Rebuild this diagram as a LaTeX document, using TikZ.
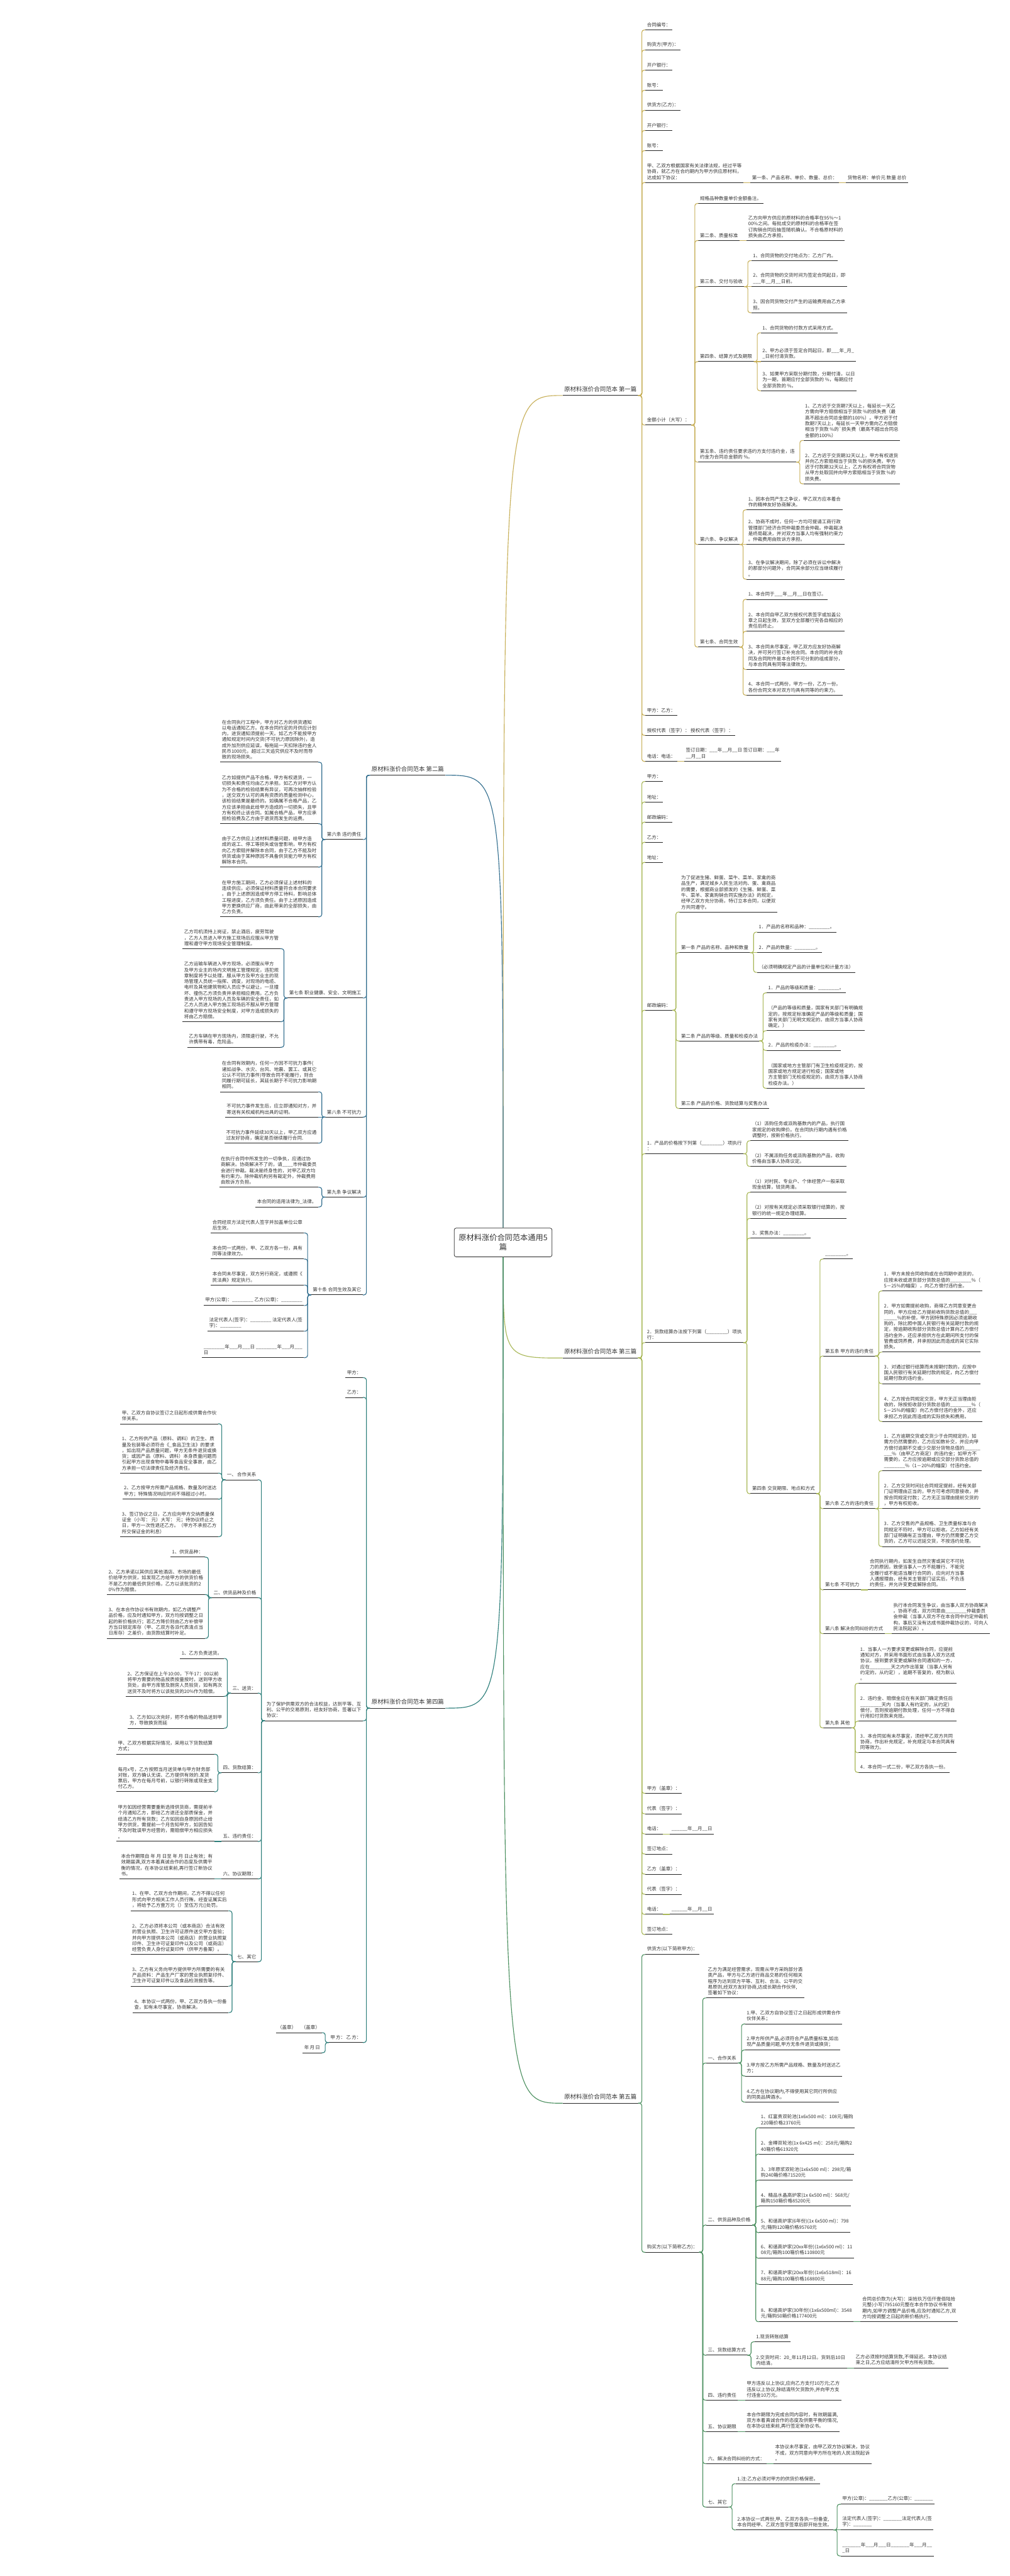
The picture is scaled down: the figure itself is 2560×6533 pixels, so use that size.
\documentclass[tikz,border=0pt]{standalone}
\usepackage{fontspec}
\setmainfont{Noto Sans CJK SC}
\usetikzlibrary{calc}

\definecolor{txtc}{HTML}{333333}
\definecolor{ulc}{HTML}{262626}
\definecolor{brA}{HTML}{C8B05A}
\definecolor{brB}{HTML}{336F8F}
\definecolor{brC}{HTML}{A9B858}
\definecolor{brD}{HTML}{2E7F7B}
\definecolor{brE}{HTML}{4C9060}

\tikzset{
  topic/.style={font=\fontsize{12}{14.8}\selectfont, text=txtc, align=left,
    inner xsep=4pt, inner ysep=7pt,
    append after command={(\tikzlastnode.south west) edge[uline] (\tikzlastnode.south east)}},
  uline/.style={draw=ulc, line width=1.6pt},
  rtopic/.style={topic, anchor=south west, xshift=18pt},
  ltopic/.style={topic, anchor=south east, xshift=-18pt},
  title/.style={topic, font=\fontsize{15}{18}\selectfont, inner ysep=9pt},
  root/.style={draw=ulc, line width=1.2pt, rounded corners=5pt, fill=white, text=txtc,
    font=\fontsize{19.5}{24}\selectfont, align=center, text width=236pt,
    minimum height=73pt, inner sep=6pt},
  conn/.style={line width=1.8pt, rounded corners=6pt},
  elbowR/.style={to path={-- ++(9pt,0) |- (\tikztotarget)}},
  elbowL/.style={to path={-- ++(-9pt,0) |- (\tikztotarget)}},
}

\begin{document}
\begin{tikzpicture}[x=1pt, y=-1pt]
\fill[white] (0,0) rectangle (2560,6533);
\useasboundingbox (0,0) rectangle (2560,6533);

\node[root] (ctr) at (1276,3151) {原材料涨价合同范本通用5\\篇};

% right side titles
\node[title, anchor=south west] (L1) at (1427,1003) {原材料涨价合同范本 第一篇};
\node[title, anchor=south west] (L3) at (1427,3444) {原材料涨价合同范本 第三篇};
\node[title, anchor=south west] (L5) at (1427,5334) {原材料涨价合同范本 第五篇};
% left side titles
\node[title, anchor=south east] (L2) at (1130,1966) {原材料涨价合同范本 第二篇};
\node[title, anchor=south east] (L4) at (1130,4332) {原材料涨价合同范本 第四篇};

\draw[conn, brA] (ctr.north) .. controls (ctr.north |- L1.south west) and (ctr.north |- L1.south west) .. (L1.south west);
\draw[conn, brB] (ctr.north) .. controls (ctr.north |- L2.south east) and (ctr.north |- L2.south east) .. (L2.south east);
\draw[conn, brC] (ctr.south) .. controls (ctr.south |- L3.south west) and (ctr.south |- L3.south west) .. (L3.south west);
\draw[conn, brD] (ctr.south) .. controls (ctr.south |- L4.south east) and (ctr.south |- L4.south east) .. (L4.south east);
\draw[conn, brE] (ctr.south) .. controls (ctr.south |- L5.south west) and (ctr.south |- L5.south west) .. (L5.south west);

% ---------- 第一篇
\node[rtopic] (a1) at (L1.south east |- 0,76) {合同编号：};
\node[rtopic] (a2) at (L1.south east |- 0,127) {购货方(甲方)：};
\node[rtopic] (a3) at (L1.south east |- 0,178) {开户银行：};
\node[rtopic] (a4) at (L1.south east |- 0,229) {账号：};
\node[rtopic] (a5) at (L1.south east |- 0,280) {供货方(乙方)：};
\node[rtopic] (a6) at (L1.south east |- 0,331) {开户银行：};
\node[rtopic] (a7) at (L1.south east |- 0,382) {账号：};
\node[rtopic] (a8) at (L1.south east |- 0,463) {甲、乙双方根据国家有关法律法规，经过平等\\协商，就乙方在合约期内为甲方供应原材料，\\达成如下协议：};
\node[rtopic] (a8a) at (a8.south east |- 0,463) {第一条、产品名称、单价、数量、总价：};
\node[rtopic] (a8b) at (a8a.south east |- 0,463) {货物名称：单价元 数量 总价};
\node[rtopic] (a9) at (L1.south east |- 0,1078) {金额小计（大写）：};
\node[rtopic] (a10) at (L1.south east |- 0,1814) {甲方：乙方：};
\node[rtopic] (a11) at (L1.south east |- 0,1865) {授权代表（签字）： 授权代表（签字）：};
\node[rtopic] (a12) at (L1.south east |- 0,1931) {电话：电话：};
\node[rtopic] (a12a) at (a12.south east |- 0,1931) {签订日期：\_\_\_年\_\_月\_\_日 签订日期：\_\_\_年\\\_\_月\_\_日};

\node[rtopic] (b1) at (a9.south east |- 0,516) {规格品种数量单价金额备注。};
\node[rtopic] (b2) at (a9.south east |- 0,610) {第二条、质量标准};
\node[rtopic] (b2a) at (b2.south east |- 0,610) {乙方向甲方供应的原材料的合格率在95\%～1\\00\%之间。每批成交的原材料的合格率在签\\订购销合同后抽签随机确认。不合格原材料的\\损失由乙方承担。};
\node[rtopic] (b3) at (a9.south east |- 0,727) {第三条、交付与验收};
\node[rtopic] (b3a) at (b3.south east |- 0,661) {1、合同货物的交付地点为：乙方厂内。};
\node[rtopic] (b3b) at (b3.south east |- 0,727) {2、合同货物的交货时间为签定合同起日，即\\\_\_\_年\_\_月\_\_日前。};
\node[rtopic] (b3c) at (b3.south east |- 0,793) {3、因合同货物交付产生的运输费用由乙方承\\担。};
\node[rtopic] (b4) at (a9.south east |- 0,917) {第四条、结算方式及期限};
\node[rtopic] (b4a) at (b4.south east |- 0,844) {1、合同货物的付款方式采用方式。};
\node[rtopic] (b4b) at (b4.south east |- 0,917) {2、甲方必须于签定合同起日，即\_\_\_年\_月\_\\\_日前付清货款。};
\node[rtopic] (b4c) at (b4.south east |- 0,991) {3、如果甲方采取分期付款，分期付清，以日\\为一期，首期应付全部货款的 \%，每期应付\\全部货款的 \%。};
\node[rtopic] (b5) at (a9.south east |- 0,1172) {第五条、违约责任要求违约方支付违约金，违\\约金为合同总金额的 \%。};
\node[rtopic] (b5a) at (b5.south east |- 0,1117) {1、乙方迟于交货期7天以上，每延长一天乙\\方需向甲方赔偿相当于货款 \%的损失费（最\\高不超出合同总金额的100\%）。甲方迟于付\\款期7天以上，每延长一天甲方需向乙方赔偿\\相当于货款 \%的\textasciigrave 损失费（最高不超出合同总\\金额的100\%）};
\node[rtopic] (b5b) at (b5.south east |- 0,1227) {2、乙方迟于交货期32天以上，甲方有权退货\\并向乙方索赔相当于货款 \%的损失费。甲方\\迟于付款期32天以上，乙方有权将合同货物\\从甲方处取回并向甲方索赔相当于货款 \%的\\损失费。};
\node[rtopic] (b6) at (a9.south east |- 0,1381) {第六条、争议解决};
\node[rtopic] (b6a) at (b6.south east |- 0,1293) {1、因本合同产生之争议，甲乙双方应本着合\\作的精神友好协商解决。};
\node[rtopic] (b6b) at (b6.south east |- 0,1381) {2、协商不成时，任何一方均可提请工商行政\\管理部门经济合同仲裁委员会仲裁。仲裁裁决\\是终局裁决，并对双方当事人均有强制约束力\\。仲裁费用由败诉方承担。};
\node[rtopic] (b6c) at (b6.south east |- 0,1469) {3、在争议解决期间，除了必须在诉讼中解决\\的那部分问题外，合同其余部分应当继续履行\\。};
\node[rtopic] (b7) at (a9.south east |- 0,1641) {第七条、合同生效};
\node[rtopic] (b7a) at (b7.south east |- 0,1520) {1、本合同于\_\_\_年\_\_月\_\_日在签订。};
\node[rtopic] (b7b) at (b7.south east |- 0,1601) {2、本合同自甲乙双方授权代表签字或加盖公\\章之日起生效，至双方全部履行完各自相应的\\责任后终止。};
\node[rtopic] (b7c) at (b7.south east |- 0,1698) {3、本合同未尽事宜，甲乙双方应友好协商解\\决，并可另行签订补充合同。本合同的补充合\\同及合同附件是本合同不可分割的组成部分，\\与本合同具有同等法律效力。};
\node[rtopic] (b7d) at (b7.south east |- 0,1763) {4、本合同一式两份，甲方一份，乙方一份。\\各份合同文本对双方均具有同等的约束力。};

\draw[conn, brA] (L1.south east) edge[elbowR] (a1.south west) edge[elbowR] (a2.south west)
  edge[elbowR] (a3.south west) edge[elbowR] (a4.south west) edge[elbowR] (a5.south west)
  edge[elbowR] (a6.south west) edge[elbowR] (a7.south west) edge[elbowR] (a8.south west)
  edge[elbowR] (a9.south west) edge[elbowR] (a10.south west) edge[elbowR] (a11.south west)
  edge[elbowR] (a12.south west);
\draw[conn, brA] (a8.south east) -- (a8a.south west) (a8a.south east) -- (a8b.south west)
  (a12.south east) -- (a12a.south west);
\draw[conn, brA] (a9.south east) edge[elbowR] (b1.south west) edge[elbowR] (b2.south west)
  edge[elbowR] (b3.south west) edge[elbowR] (b4.south west) edge[elbowR] (b5.south west)
  edge[elbowR] (b6.south west) edge[elbowR] (b7.south west);
\draw[conn, brA] (b2.south east) -- (b2a.south west) (b3.south east) -- (b3b.south west)
  (b4.south east) -- (b4b.south west) (b6.south east) -- (b6b.south west);
\draw[conn, brA] (b3.south east) edge[elbowR] (b3a.south west) edge[elbowR] (b3c.south west);
\draw[conn, brA] (b4.south east) edge[elbowR] (b4a.south west) edge[elbowR] (b4c.south west);
\draw[conn, brA] (b5.south east) edge[elbowR] (b5a.south west) edge[elbowR] (b5b.south west);
\draw[conn, brA] (b6.south east) edge[elbowR] (b6a.south west) edge[elbowR] (b6c.south west);
\draw[conn, brA] (b7.south east) edge[elbowR] (b7a.south west) edge[elbowR] (b7b.south west)
  edge[elbowR] (b7c.south west) edge[elbowR] (b7d.south west);

% ---------- 第三篇
\node[rtopic] (c1) at (L3.south east |- 0,1982) {甲方：};
\node[rtopic] (c2) at (L3.south east |- 0,2034) {地址：};
\node[rtopic] (c3) at (L3.south east |- 0,2085) {邮政编码：};
\node[rtopic] (c4) at (L3.south east |- 0,2136) {乙方：};
\node[rtopic] (c5) at (L3.south east |- 0,2187) {地址：};
\node[rtopic] (c6) at (L3.south east |- 0,2562) {邮政编码：};
\node[rtopic] (c7) at (L3.south east |- 0,2926) {1．产品的价格按下列第（\_\_\_\_\_\_\_\_）项执行\\：};
\node[rtopic] (c8) at (L3.south east |- 0,3405) {2．货款结算办法按下列第（\_\_\_\_\_\_\_\_）项执\\行：};
\node[rtopic] (c9) at (L3.south east |- 0,4548) {甲方（盖章）：};
\node[rtopic] (c10) at (L3.south east |- 0,4600) {代表（签字）：};
\node[rtopic] (c11) at (L3.south east |- 0,4651) {电话：};
\node[rtopic] (c11a) at (c11.south east |- 0,4651) {\_\_\_\_\_\_年\_\_月\_\_日};
\node[rtopic] (c12) at (L3.south east |- 0,4702) {签订地点：};
\node[rtopic] (c13) at (L3.south east |- 0,4753) {乙方（盖章）：};
\node[rtopic] (c14) at (L3.south east |- 0,4804) {代表（签字）：};
\node[rtopic] (c15) at (L3.south east |- 0,4855) {电话：};
\node[rtopic] (c15a) at (c15.south east |- 0,4855) {\_\_\_\_\_\_年\_\_月\_\_日};
\node[rtopic] (c16) at (L3.south east |- 0,4906) {签订地点：};

\node[rtopic] (d1) at (c6.south east |- 0,2313) {为了促进生猪、鲜蛋、菜牛、菜羊、家禽的商\\品生产，满足城乡人民生活对肉、蛋、禽商品\\的需要，根据商业部颁发的《生猪、鲜蛋、菜\\牛、菜羊、家禽购销合同实施办法》的规定，\\经甲乙双方充分协商，特订立本合同，以便双\\方共同遵守。};
\node[rtopic] (d2) at (c6.south east |- 0,2416) {第一条 产品的名称、品种和数量};
\node[rtopic] (d2a) at (d2.south east |- 0,2364) {1．产品的名称和品种：\_\_\_\_\_\_\_\_。};
\node[rtopic] (d2b) at (d2.south east |- 0,2416) {2．产品的数量：\_\_\_\_\_\_\_\_。};
\node[rtopic] (d2c) at (d2.south east |- 0,2466) {（必须明确规定产品的计量单位和计量方法）};
\node[rtopic] (d3) at (c6.south east |- 0,2640) {第二条 产品的等级、质量和检疫办法};
\node[rtopic] (d3a) at (d3.south east |- 0,2518) {1．产品的等级和质量：\_\_\_\_\_\_\_\_。};
\node[rtopic] (d3b) at (d3.south east |- 0,2614) {（产品的等级和质量，国家有关部门有明确规\\定的，按规定标准确定产品的等级和质量；国\\家有关部门无明文规定的，由双方当事人协商\\确定。）};
\node[rtopic] (d3c) at (d3.south east |- 0,2664) {2．产品的检疫办法：\_\_\_\_\_\_\_\_。};
\node[rtopic] (d3d) at (d3.south east |- 0,2760) {（国家或地方主管部门有卫生检疫规定的，按\\国家或地方规定进行检疫；国家或地\\方主管部门无检疫规定的，由双方当事人协商\\检疫办法。）};
\node[rtopic] (d4) at (c6.south east |- 0,2811) {第三条 产品的价格、货款结算与奖售办法};

\node[rtopic] (e1) at (c7.south east |- 0,2893) {（1）派购任务或派购基数内的产品，执行国\\家规定的收购牌价。在合同执行期内遇有价格\\调整时，按新价格执行。};
\node[rtopic] (e2) at (c7.south east |- 0,2958) {（2）不属派购任务或派购基数的产品，收购\\价格由当事人协商议定。};

\node[rtopic] (f1) at (c8.south east |- 0,3024) {（1）对村民、专业户、个体经营户一般采取\\现金结算，钱货两清。};
\node[rtopic] (f2) at (c8.south east |- 0,3090) {（2）对按有关规定必须采取银行结算的，按\\银行的统一规定办理结算。};
\node[rtopic] (f3) at (c8.south east |- 0,3140) {3．奖售办法：\_\_\_\_\_\_\_\_。};
\node[rtopic] (f4) at (c8.south east |- 0,3788) {第四条 交货期限、地点和方式};

\node[rtopic] (g1) at (f4.south east |- 0,3193) {\_\_\_\_\_\_\_\_。};
\node[rtopic] (g2) at (f4.south east |- 0,3439) {第五条 甲方的违约责任};
\node[rtopic] (g2a) at (g2.south east |- 0,3274) {1．甲方未按合同收购或在合同期中退货的，\\应按未收或退货部分货款总值的\_\_\_\_\_\_\_\_\%（\\5－25\%的幅度），向乙方偿付违约金。};
\node[rtopic] (g2b) at (g2.south east |- 0,3429) {2．甲方如需提前收购，商得乙方同意变更合\\同的，甲方应给乙方提前收购货款总值的\_\_\_\\\_\_\_\_\_\%的补偿，甲方因特殊原因必须逾期收\\购的，除比照中国人民银行有关延期付款的规\\定，按逾期收购部分货款总值计算向乙方偿付\\违约金外，还应承担供方在此期间所支付的保\\管费或饲养费，并承担因此而造成的其它实际\\损失。};
\node[rtopic] (g2c) at (g2.south east |- 0,3509) {3．对通过银行结算而未按期付款的，应按中\\国人民银行有关延期付款的规定，向乙方偿付\\延期付款的违约金。};
\node[rtopic] (g2d) at (g2.south east |- 0,3605) {4．乙方按合同规定交货，甲方无正当理由拒\\收的，除按拒收部分货款总值的\_\_\_\_\_\_\_\_\%（\\5－25\%的幅度）向乙方偿付违约金外，还应\\承担乙方因此而造成的实际损失和费用。};
\node[rtopic] (g3) at (f4.south east |- 0,3826) {第六条 乙方的违约责任};
\node[rtopic] (g3a) at (g3.south east |- 0,3730) {1．乙方逾期交货或交货少于合同规定的，如\\需方仍然需要的，乙方应如数补交，并应向甲\\方偿付逾期不交或少交部分货物总值的\_\_\_\_\_\_\\\_\_\_\%（由甲乙方商定）的违约金；如甲方不\\需要的，乙方应按逾期或应交部分货款总值的\\\_\_\_\_\_\_\_\_\%（1－20\%的幅度）付违约金。};
\node[rtopic] (g3b) at (g3.south east |- 0,3826) {2．乙方交货时间比合同规定提前，经有关部\\门证明理由正当的，甲方可考虑同意接收，并\\按合同规定付款；乙方无正当理由提前交货的\\，甲方有权拒收。};
\node[rtopic] (g3c) at (g3.south east |- 0,3922) {3．乙方交售的产品规格、卫生质量标准与合\\同规定不符时，甲方可以拒收。乙方如经有关\\部门证明确有正当理由，甲方仍然需要乙方交\\货的，乙方可以迟延交货，不按违约处理。};
\node[rtopic] (g4) at (f4.south east |- 0,4032) {第七条 不可抗力};
\node[rtopic] (g4a) at (g4.south east |- 0,4032) {合同执行期内，如发生自然灾害或其它不可抗\\力的原因，致使当事人一方不能履行、不能完\\全履行或不能适当履行合同的，应向对方当事\\人通报理由，经有关主管部门证实后，不负违\\约责任，并允许变更或解除合同。};
\node[rtopic] (g5) at (f4.south east |- 0,4143) {第八条 解决合同纠纷的方式};
\node[rtopic] (g5a) at (g5.south east |- 0,4143) {执行本合同发生争议，由当事人双方协商解决\\。协商不成，双方同意由\_\_\_\_\_\_\_\_仲裁委员\\会仲裁（当事人双方不在本合同中约定仲裁机\\构，事后又没有达成书面仲裁协议的，可向人\\民法院起诉）。};
\node[rtopic] (g6) at (f4.south east |- 0,4382) {第九条 其他};
\node[rtopic] (g6a) at (g6.south east |- 0,4269) {1．当事人一方要求变更或解除合同，应提前\\通知对方，并采用书面形式由当事人双方达成\\协议。接到要求变更或解除合同通知的一方，\\应在\_\_\_\_\_\_\_\_天之内作出答复（当事人另有\\约定的，从约定），逾期不答复的，视为默认\\。};
\node[rtopic] (g6b) at (g6.south east |- 0,4365) {2．违约金、赔偿金应在有关部门确定责任后\\\_\_\_\_\_\_\_\_天内（当事人有约定的，从约定）\\偿付，否则按逾期付款处理，任何一方不得自\\行用扣付货款来充抵。};
\node[rtopic] (g6c) at (g6.south east |- 0,4445) {3．本合同如有未尽事宜，须经甲乙双方共同\\协商，作出补充规定，补充规定与本合同具有\\同等效力。};
\node[rtopic] (g6d) at (g6.south east |- 0,4495) {4．本合同一式二份，甲乙双方各执一份。};

\draw[conn, brC] (L3.south east) edge[elbowR] (c1.south west) edge[elbowR] (c2.south west)
  edge[elbowR] (c3.south west) edge[elbowR] (c4.south west) edge[elbowR] (c5.south west)
  edge[elbowR] (c6.south west) edge[elbowR] (c7.south west) edge[elbowR] (c8.south west)
  edge[elbowR] (c9.south west) edge[elbowR] (c10.south west) edge[elbowR] (c11.south west)
  edge[elbowR] (c12.south west) edge[elbowR] (c13.south west) edge[elbowR] (c14.south west)
  edge[elbowR] (c15.south west) edge[elbowR] (c16.south west);
\draw[conn, brC] (c11.south east) -- (c11a.south west) (c15.south east) -- (c15a.south west)
  (d2.south east) -- (d2b.south west) (g3.south east) -- (g3b.south west)
  (g4.south east) -- (g4a.south west) (g5.south east) -- (g5a.south west);
\draw[conn, brC] (c6.south east) edge[elbowR] (d1.south west) edge[elbowR] (d2.south west)
  edge[elbowR] (d3.south west) edge[elbowR] (d4.south west);
\draw[conn, brC] (d2.south east) edge[elbowR] (d2a.south west) edge[elbowR] (d2c.south west);
\draw[conn, brC] (d3.south east) edge[elbowR] (d3a.south west) edge[elbowR] (d3b.south west)
  edge[elbowR] (d3c.south west) edge[elbowR] (d3d.south west);
\draw[conn, brC] (c7.south east) edge[elbowR] (e1.south west) edge[elbowR] (e2.south west);
\draw[conn, brC] (c8.south east) edge[elbowR] (f1.south west) edge[elbowR] (f2.south west)
  edge[elbowR] (f3.south west) edge[elbowR] (f4.south west);
\draw[conn, brC] (f4.south east) edge[elbowR] (g1.south west) edge[elbowR] (g2.south west)
  edge[elbowR] (g3.south west) edge[elbowR] (g4.south west) edge[elbowR] (g5.south west)
  edge[elbowR] (g6.south west);
\draw[conn, brC] (g2.south east) edge[elbowR] (g2a.south west) edge[elbowR] (g2b.south west)
  edge[elbowR] (g2c.south west) edge[elbowR] (g2d.south west);
\draw[conn, brC] (g3.south east) edge[elbowR] (g3a.south west) edge[elbowR] (g3c.south west);
\draw[conn, brC] (g6.south east) edge[elbowR] (g6a.south west) edge[elbowR] (g6b.south west)
  edge[elbowR] (g6c.south west) edge[elbowR] (g6d.south west);

% ---------- 第五篇
\node[rtopic] (h1) at (L5.south east |- 0,4957) {供货方(以下简称甲方)：};
\node[rtopic] (h2) at (L5.south east |- 0,5712) {购买方(以下简称乙方)：};
\node[rtopic] (i1) at (h2.south east |- 0,5067) {乙方为满足经营需求，现需从甲方采购部分酒\\类产品，甲方与乙方进行商品交易的任何相关\\程序为达到双方平等、互利、合法、公平的交\\易原则,经双方友好协商,达成长期合作伙伴,\\签署如下协议：};
\node[rtopic] (i2) at (h2.south east |- 0,5232) {一、合作关系};
\node[rtopic] (i2a) at (i2.south east |- 0,5133) {1.甲、乙双方自协议签订之日起形成供需合作\\伙伴关系；};
\node[rtopic] (i2b) at (i2.south east |- 0,5199) {2.甲方所供产品,必须符合产品质量标准,如出\\现产品质量问题,甲方无条件退货或换货；};
\node[rtopic] (i2c) at (i2.south east |- 0,5265) {3.甲方按乙方所需产品规格、数量及时送达乙\\方；};
\node[rtopic] (i2d) at (i2.south east |- 0,5331) {4.乙方在协议期内,不得使用其它同行所供应\\的同类品牌酒水。};
\node[rtopic] (i3) at (h2.south east |- 0,5643) {二、供货品种及价格};
\node[rtopic] (i3a) at (i3.south east |- 0,5396) {1、红富贵双轮池(1x6x500 ml)：108元/箱购\\220箱价格23760元};
\node[rtopic] (i3b) at (i3.south east |- 0,5463) {2、金樽双轮池(1x 6x425 ml)：258元/箱购2\\40箱价格61920元};
\node[rtopic] (i3c) at (i3.south east |- 0,5529) {3、3年原浆双轮池(1x6x500 ml)：298元/箱\\购240箱价格71520元};
\node[rtopic] (i3d) at (i3.south east |- 0,5595) {4、精品水晶高炉家(1x 6x500 ml)：568元/\\箱购150箱价格85200元};
\node[rtopic] (i3e) at (i3.south east |- 0,5662) {5、和谐高炉家(6年份)(1x 6x500 ml)：798\\元/箱购120箱价格95760元};
\node[rtopic] (i3f) at (i3.south east |- 0,5727) {6、和谐高炉家(20xx年份)(1x6x500 ml)：11\\08元/箱购100箱价格110800元};
\node[rtopic] (i3g) at (i3.south east |- 0,5793) {7、和谐高炉家(20xx年份)(1x6x518ml)：16\\88元/箱购100箱价格168800元};
\node[rtopic] (i3h) at (i3.south east |- 0,5888) {8、和谐高炉家(30年份)(1x6x500ml)：3548\\元/箱购50箱价格177400元};
\node[rtopic] (i3h1) at (i3h.south east |- 0,5888) {合同总价款为(大写)：柒拾玖万伍仟壹佰陆拾\\元整(小写)795160元整在本合作协议书有效\\期内,如甲方调整产品价格,应及时通知乙方,双\\方均按调整之日起的新价格执行。};
\node[rtopic] (i4) at (h2.south east |- 0,5973) {三、货款结算方式};
\node[rtopic] (i4a) at (i4.south east |- 0,5939) {1.现货转账结算};
\node[rtopic] (i4b) at (i4.south east |- 0,6006) {2.交货时间：20\_年11月12日。货到后10日\\内结清。};
\node[rtopic] (i4b1) at (i4b.south east |- 0,6006) {乙方必须按时结算货款,不得延迟。本协议结\\束之日,乙方应结清所欠甲方所有货款。};
\node[rtopic] (i5) at (h2.south east |- 0,6087) {四、违约责任};
\node[rtopic] (i5a) at (i5.south east |- 0,6087) {甲方违反以上协议,应向乙方支付10万元;乙方\\违反以上协议,除结清所欠货款外,并向甲方支\\付违金10万元。};
\node[rtopic] (i6) at (h2.south east |- 0,6167) {五、协议期限};
\node[rtopic] (i6a) at (i6.south east |- 0,6167) {本合作期限为完成合同内容时，有效期届满,\\双方本着真诚合作的态度及供需平衡的情况,\\在本协议结束前,再行签定新协议书。};
\node[rtopic] (i7) at (h2.south east |- 0,6248) {六、解决合同纠纷的方式：};
\node[rtopic] (i7a) at (i7.south east |- 0,6248) {本协议未尽事宜，由甲乙双方协议解决，协议\\不成，双方同意向甲方所在地的人民法院起诉\\。};
\node[rtopic] (i8) at (h2.south east |- 0,6358) {七、其它};
\node[rtopic] (i8a) at (i8.south east |- 0,6299) {1.注:乙方必须对甲方的供货价格保密。};
\node[rtopic] (i8b) at (i8.south east |- 0,6416) {2.本协议一式两份,甲、乙双方各执一份备查,\\本合同经甲、乙双方签字签章后即开始生效。};
\node[rtopic] (j1) at (i8b.south east |- 0,6351) {甲方(公章)：\_\_\_\_\_\_\_乙方(公章)：\_\_\_\_\_\_\_};
\node[rtopic] (j2) at (i8b.south east |- 0,6416) {法定代表人(签字)：\_\_\_\_\_\_\_法定代表人(签\\字)：\_\_\_\_\_\_\_};
\node[rtopic] (j3) at (i8b.south east |- 0,6482) {\_\_\_\_\_\_\_年\_\_\_月\_\_\_日\_\_\_\_\_\_\_年\_\_\_月\_\_\\\_日};

\draw[conn, brE] (L5.south east) edge[elbowR] (h1.south west) edge[elbowR] (h2.south west);
\draw[conn, brE] (h2.south east) edge[elbowR] (i1.south west) edge[elbowR] (i2.south west)
  edge[elbowR] (i3.south west) edge[elbowR] (i4.south west) edge[elbowR] (i5.south west)
  edge[elbowR] (i6.south west) edge[elbowR] (i7.south west) edge[elbowR] (i8.south west);
\draw[conn, brE] (i2.south east) edge[elbowR] (i2a.south west) edge[elbowR] (i2b.south west)
  edge[elbowR] (i2c.south west) edge[elbowR] (i2d.south west);
\draw[conn, brE] (i3.south east) edge[elbowR] (i3a.south west) edge[elbowR] (i3b.south west)
  edge[elbowR] (i3c.south west) edge[elbowR] (i3d.south west) edge[elbowR] (i3e.south west)
  edge[elbowR] (i3f.south west) edge[elbowR] (i3g.south west) edge[elbowR] (i3h.south west);
\draw[conn, brE] (i4.south east) edge[elbowR] (i4a.south west) edge[elbowR] (i4b.south west);
\draw[conn, brE] (i8.south east) edge[elbowR] (i8a.south west) edge[elbowR] (i8b.south west);
\draw[conn, brE] (i8b.south east) edge[elbowR] (j1.south west) edge[elbowR] (j3.south west);
\draw[conn, brE] (i3h.south east) -- (i3h1.south west) (i4b.south east) -- (i4b1.south west)
  (i5.south east) -- (i5a.south west) (i6.south east) -- (i6a.south west)
  (i7.south east) -- (i7a.south west) (i8b.south east) -- (j2.south west);

% ---------- 第二篇
\node[ltopic] (p6) at (L2.south west |- 0,2129) {第六条 违约责任};
\node[ltopic] (p6a) at (p6.south west |- 0,1933) {在合同执行工程中，甲方对乙方的供货通知\\以电话通知乙方。在本合同约定的月供应计划\\内，进货通知须提前一天。如乙方不能按甲方\\通知规定时间内交货(不可抗力原因除外)，造\\成外加剂供应延误，每拖延一天扣除违约金人\\民币1000元，超过三天追究供应不及时而导\\致的现场损失。};
\node[ltopic] (p6b) at (p6.south west |- 0,2089) {乙方如提供产品不合格，甲方有权退货，一\\切损失和责任均由乙方承担。如乙方对甲方认\\为不合格的检验结果有异议，可再次抽样检验\\，送交双方认可的具有资质的质量检测中心，\\该检验结果是最终的。如确属不合格产品，乙\\方应该承担由此给甲方造成的一切损失，且甲\\方有权终止该合同。如属合格产品，甲方应承\\担检验费及乙方由于退货而发生的运费。};
\node[ltopic] (p6c) at (p6.south west |- 0,2199) {由于乙方供应上述材料质量问题，给甲方造\\成的返工、停工等损失或信誉影响，甲方有权\\向乙方索赔并解除本合同，由于乙方不能及时\\供货或由于某种原因不具备供货能力甲方有权\\解除本合同。};
\node[ltopic] (p6d) at (p6.south west |- 0,2325) {在甲方施工期间，乙方必须保证上述材料的\\连续供应。必须保证材料质量符合本合同要求\\。由于上述原因造成甲方停工待料，影响总体\\工程进度，乙方须负责任。由于上述原因造成\\甲方更换供应厂商，由此带来的全部损失，由\\乙方负责。};
\node[ltopic] (p7) at (L2.south west |- 0,2531) {第七条 职业健康、安全、文明施工};
\node[ltopic] (p7a) at (p7.south west |- 0,2406) {乙方司机须持上岗证，禁止酒后，疲劳驾驶\\，乙方人员进入甲方施工现场后应服从甲方管\\理和遵守甲方现场安全管理制度。};
\node[ltopic] (p7b) at (p7.south west |- 0,2591) {乙方运输车辆进入甲方现场，必须服从甲方\\及甲方业主的场内文明施工管理规定，违犯规\\章制度将予以处理，服从甲方及甲方业主的现\\场管理人员统一指挥、调度，对现场的电缆、\\电杆及其他建筑物和人员应予以避让，一旦撞\\坏、撞伤乙方须负责并承担相应费用。乙方负\\责进入甲方现场的人员及车辆的安全责任，如\\乙方人员进入甲方施工现场后不服从甲方管理\\和遵守甲方现场安全制度，对甲方造成损失的\\将由乙方赔偿。};
\node[ltopic] (p7c) at (p7.south west |- 0,2656) {乙方车辆在甲方现场内，须限速行驶，不允\\许携带有毒，危险品。};
\node[ltopic] (p8) at (L2.south west |- 0,2833) {第八条 不可抗力};
\node[ltopic] (p8a) at (p8.south west |- 0,2769) {在合同有效期内，任何一方因不可抗力事件(\\诸如战争、水灾、台风、地震、罢工、或其它\\公认不可抗力事件)导致合同不能履行，则合\\同履行期可延长，其延长期于不可抗力影响期\\相同。};
\node[ltopic] (p8b) at (p8.south west |- 0,2833) {不可抗力事件发生后，应立即通知对方，并\\寄送有关权威机构出具的证明。};
\node[ltopic] (p8c) at (p8.south west |- 0,2899) {不可抗力事件延续30天以上，甲乙双方应通\\过友好协商，确定是否继续履行合同.};
\node[ltopic] (p9) at (L2.south west |- 0,3036) {第九条 争议解决};
\node[ltopic] (p9a) at (p9.south west |- 0,3011) {在执行合同中所发生的一切争执，应通过协\\商解决。协商解决不了的，请\_\_\_\_市仲裁委员\\会进行仲裁。裁决是终身性的，对甲乙双方均\\有约束力。除仲裁机构另有裁定外，仲裁费用\\由败诉方负担。};
\node[ltopic] (p9b) at (p9.south west |- 0,3061) {本合同的适用法律为\_法律。};
\node[ltopic] (p10) at (L2.south west |- 0,3284) {第十条 合同生效及其它};
\node[ltopic] (p10a) at (p10.south west |- 0,3127) {合同经双方法定代表人签字并加盖单位公章\\后生效。};
\node[ltopic] (p10b) at (p10.south west |- 0,3193) {本合同一式两份，甲、乙双方各一份，具有\\同等法律效力。};
\node[ltopic] (p10c) at (p10.south west |- 0,3259) {本合同未尽事宜，双方另行商定，或遵照《\\民法典》规定执行。};
\node[ltopic] (p10d) at (p10.south west |- 0,3311) {甲方(公章)：\_\_\_\_\_\_\_\_ 乙方(公章)：\_\_\_\_\_\_\_\_};
\node[ltopic] (p10e) at (p10.south west |- 0,3376) {法定代表人(签字)：\_\_\_\_\_\_\_\_ 法定代表人(签\\字)：\_\_\_\_\_\_\_\_};
\node[ltopic] (p10f) at (p10.south west |- 0,3443) {\_\_\_\_\_\_\_\_年\_\_\_月\_\_\_日 \_\_\_\_\_\_\_\_年\_\_\_月\_\_\_\\日};

\draw[conn, brB] (L2.south west) edge[elbowL] (p6.south east) edge[elbowL] (p7.south east)
  edge[elbowL] (p8.south east) edge[elbowL] (p9.south east) edge[elbowL] (p10.south east);
\draw[conn, brB] (p6.south west) edge[elbowL] (p6a.south east) edge[elbowL] (p6b.south east)
  edge[elbowL] (p6c.south east) edge[elbowL] (p6d.south east);
\draw[conn, brB] (p7.south west) edge[elbowL] (p7a.south east) edge[elbowL] (p7b.south east)
  edge[elbowL] (p7c.south east);
\draw[conn, brB] (p8.south west) edge[elbowL] (p8a.south east) edge[elbowL] (p8c.south east)
  (p8.south west) -- (p8b.south east);
\draw[conn, brB] (p9.south west) edge[elbowL] (p9a.south east) edge[elbowL] (p9b.south east);
\draw[conn, brB] (p10.south west) edge[elbowL] (p10a.south east) edge[elbowL] (p10b.south east)
  edge[elbowL] (p10c.south east) edge[elbowL] (p10d.south east) edge[elbowL] (p10e.south east)
  edge[elbowL] (p10f.south east);

% ---------- 第四篇
\node[ltopic] (m1) at (L4.south west |- 0,3494) {甲方：};
\node[ltopic] (m2) at (L4.south west |- 0,3544) {乙方：};
\node[ltopic] (m3) at (L4.south west |- 0,4364) {为了保护供需双方的合法权益，达到平等、互\\利、公平的交易原则，经友好协商，签署以下\\协议：};
\node[ltopic] (m4) at (L4.south west |- 0,5180) {甲\,方：\,乙\,方：};
\node[ltopic] (m4a) at (m4.south west |- 0,5155) {（盖章）\quad（盖章）};
\node[ltopic] (m4b) at (m4.south west |- 0,5206) {年\,月\,日};

\node[ltopic] (n1) at (m3.south west |- 0,3753) {一、\,合作关系};
\node[ltopic] (n1a) at (n1.south west |- 0,3611) {甲、乙双方自协议签订之日起形成供需合作伙\\伴关系。};
\node[ltopic] (n1b) at (n1.south west |- 0,3736) {1、乙方所供产品（原料、调料）的卫生、质\\量及包装等必须符合《\_食品卫生法》的要求\\，如出现产品质量问题，甲方无条件退货或换\\货；或因产品（原料、调料）本身质量问题而\\引起甲方出现食物中毒等食品安全事故，由乙\\方承担一切法律责任及经济责任。};
\node[ltopic] (n1c) at (n1.south west |- 0,3802) {2、乙方按甲方所需产品规格、数量及时送达\\甲方；特殊情况响应时间不得超过小时。};
\node[ltopic] (n1d) at (n1.south west |- 0,3897) {3、签订协议之日，乙方应向甲方交纳质量保\\证金（小写： 元）大写： 元；待协议终止之\\日，甲方一次性退还乙方。（甲方不承担乙方\\所交保证金的利息）};
\node[ltopic] (n2) at (m3.south west |- 0,4052) {二、供货品种及价格};
\node[ltopic] (n2a) at (n2.south west |- 0,3949) {1、供货品种：};
\node[ltopic] (n2b) at (n2.south west |- 0,4044) {2、乙方承诺以其供应其他酒店、市场的最低\\价给甲方供货，如发现乙方给甲方的供货价格\\不是乙方的最低供货价格，乙方以该批货的2\\0\%作为赔偿。};
\node[ltopic] (n2c) at (n2.south west |- 0,4155) {3、在本合作协议书有效期内，如乙方调整产\\品价格，应及时通知甲方，双方均按调整之日\\起的新价格执行；若乙方降价则由乙方补偿甲\\方当日锁定库存（甲、乙双方各派代表清点当\\日库存）之差价，由货款结算时补足。};
\node[ltopic] (n3) at (m3.south west |- 0,4294) {三、送货：};
\node[ltopic] (n3a) at (n3.south west |- 0,4206) {1、乙方负责送货。};
\node[ltopic] (n3b) at (n3.south west |- 0,4302) {2、乙方保证在上午10:00，下午17：00以前\\将甲方需要的物品按质按量按时，送到甲方收\\货处，由甲方库管及厨房人员验货，如有两次\\送货不及时将方以该批货的20\%作为赔偿。};
\node[ltopic] (n3c) at (n3.south west |- 0,4383) {3、乙方如以次充好，把不合格的物品送到甲\\方，导致换货而延};
\node[ltopic] (n4) at (m3.south west |- 0,4496) {四、货款结算：};
\node[ltopic] (n4a) at (n4.south west |- 0,4449) {甲、乙双方根据实际情况，采用以下货款结算\\方式；};
\node[ltopic] (n4b) at (n4.south west |- 0,4544) {每月x号，乙方按照当月送货单与甲方财务部\\对账，双方确认无误、乙方提供有效的.发货\\票后，甲方在每月号前，以银行转账或现金支\\付乙方。};
\node[ltopic] (n5) at (m3.south west |- 0,4670) {五、违约责任：};
\node[ltopic] (n5a) at (n5.south west |- 0,4670) {甲方如因经营需要重新选择供货商，需提前半\\个月通知乙方，即给乙方退还全部质保金，并\\结清乙方所有货款；乙方如因自身原因终止给\\甲方供货，需提前一个月告知甲方，如因告知\\不及时耽误甲方经营的，需赔偿甲方相应损失\\。};
\node[ltopic] (n6) at (m3.south west |- 0,4765) {六、协议期限：};
\node[ltopic] (n6a) at (n6.south west |- 0,4765) {本合作期限自 年 月 日至 年 月 日止有效；有\\效期届满,双方本着真诚合作的态度及供需平\\衡的情况，在本协议结束前,再行签订新协议\\书。};
\node[ltopic] (n7) at (m3.south west |- 0,4975) {七、其它};
\node[ltopic] (n7a) at (n7.south west |- 0,4846) {1、在甲、乙双方合作期间，乙方不得以任何\\形式向甲方相关工作人员行贿，经查证属实后\\，将给予乙方壹万元（）至伍万元()处罚。};
\node[ltopic] (n7b) at (n7.south west |- 0,4957) {2、乙方必须将本公司（或本商店）合法有效\\的营业执照、卫生许可证原件送交甲方查验；\\并向甲方提供本公司（或商店）的营业执照复\\印件、卫生许可证复印件以及公司（或商店）\\经营负责人身份证复印件（供甲方备案）。};
\node[ltopic] (n7c) at (n7.south west |- 0,5037) {3、乙方有义务向甲方提供甲方所需要的有关\\产品资料：产品生产厂家的营业执照复印件、\\卫生许可证复印件以及食品检测报告等。};
\node[ltopic] (n7d) at (n7.south west |- 0,5104) {4、本协议一式两份，甲、乙双方各执一份备\\查，如有未尽事宜，协商解决。};

\draw[conn, brD] (L4.south west) edge[elbowL] (m1.south east) edge[elbowL] (m2.south east)
  edge[elbowL] (m3.south east) edge[elbowL] (m4.south east);
\draw[conn, brD] (m4.south west) edge[elbowL] (m4a.south east) edge[elbowL] (m4b.south east);
\draw[conn, brD] (m3.south west) edge[elbowL] (n1.south east) edge[elbowL] (n2.south east)
  edge[elbowL] (n3.south east) edge[elbowL] (n4.south east) edge[elbowL] (n5.south east)
  edge[elbowL] (n6.south east) edge[elbowL] (n7.south east);
\draw[conn, brD] (n1.south west) edge[elbowL] (n1a.south east) edge[elbowL] (n1b.south east)
  edge[elbowL] (n1c.south east) edge[elbowL] (n1d.south east);
\draw[conn, brD] (n2.south west) edge[elbowL] (n2a.south east) edge[elbowL] (n2b.south east)
  edge[elbowL] (n2c.south east);
\draw[conn, brD] (n3.south west) edge[elbowL] (n3a.south east) edge[elbowL] (n3b.south east)
  edge[elbowL] (n3c.south east);
\draw[conn, brD] (n4.south west) edge[elbowL] (n4a.south east) edge[elbowL] (n4b.south east);
\draw[conn, brD] (n7.south west) edge[elbowL] (n7a.south east) edge[elbowL] (n7b.south east)
  edge[elbowL] (n7c.south east) edge[elbowL] (n7d.south east);
\draw[conn, brD] (n5.south west) -- (n5a.south east) (n6.south west) -- (n6a.south east);
\end{tikzpicture}
\end{document}
